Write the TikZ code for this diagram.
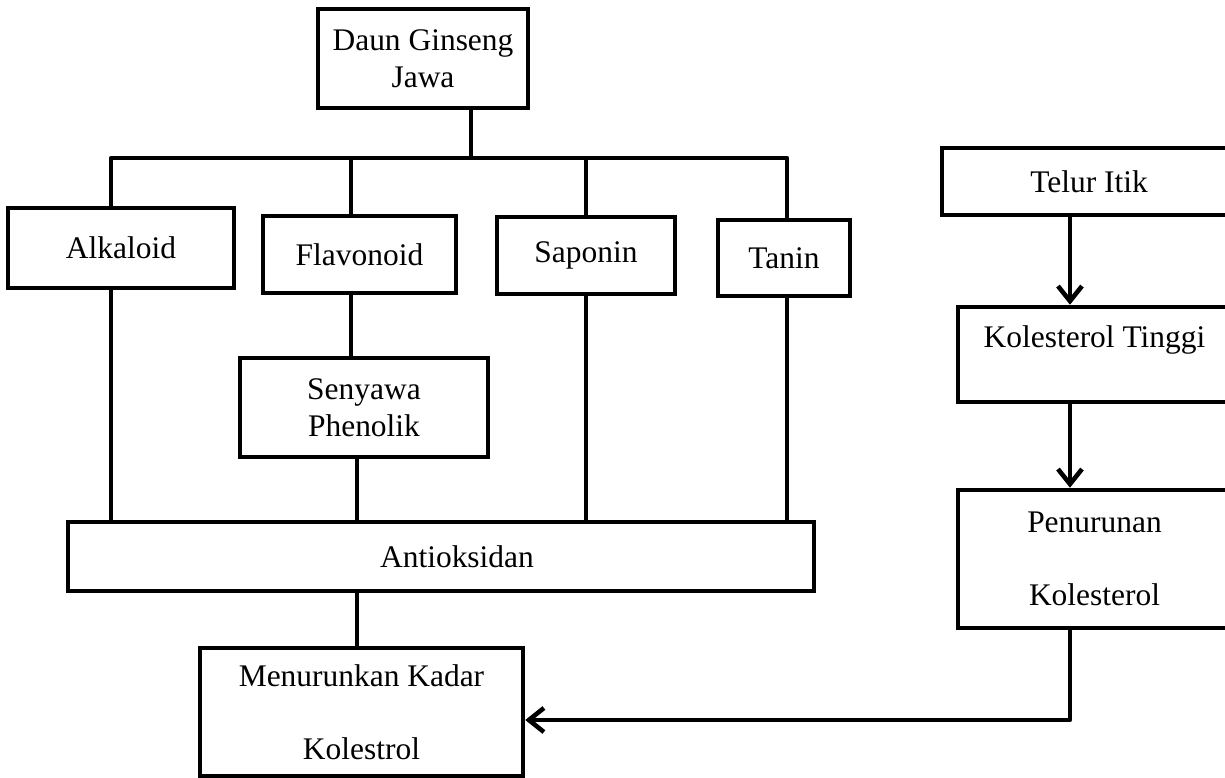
\documentclass[tikz,border=0pt]{standalone}
\usepackage{fontspec}
\setmainfont{Liberation Serif}
\usetikzlibrary{arrows.meta}

\tikzset{
  flow/.style={line width=2.6pt, line join=round},
  arr/.style={flow, -{Straight Barb[length=0.3cm,width=0.48cm]}}
}

\begin{document}
\begin{tikzpicture}[x=0.02cm, y=-0.02cm,
    every node/.append style={font=\fontsize{17.9pt}{21pt}\selectfont}]
    \useasboundingbox (0,0) rectangle (1225,778);
    \clip (0,0) rectangle (1225,778);

    \begin{scope}[every node/.style={rectangle, draw, line width=2.6pt, align=center,
        font=\fontsize{17.9pt}{21pt}\selectfont}]
      \node[minimum width=4.2cm, minimum height=1.98cm] (daun) at (423, 58.5) {Daun Ginseng\\Jawa};
      \node[minimum width=4.52cm, minimum height=1.6cm] (alk) at (121, 248) {Alkaloid};
      \node[minimum width=3.86cm, minimum height=1.54cm] (fla) at (359.5, 254.5) {Flavonoid};
      \node[minimum width=3.56cm, minimum height=1.54cm] (sap) at (586, 255.5) {Saponin};
      \node[minimum width=2.64cm, minimum height=1.52cm] (tan) at (784, 258) {Tanin};
      \node[minimum width=4.96cm, minimum height=1.98cm] (sen) at (364, 407.5) {Senyawa\\Phenolik};
      \node[minimum width=14.92cm, minimum height=1.38cm] (anti) at (441, 556.5) {\hspace*{0.64cm}Antioksidan};
      \node[minimum width=6.46cm, minimum height=2.56cm] (turun) at (361.5, 712) {Menurunkan Kadar\\[0.72cm]Kolestrol};
      \node[minimum width=5.88cm, minimum height=1.34cm] (telur) at (1089, 181.5) {Telur Itik};
      \node[minimum width=5.46cm, minimum height=1.9cm, text depth=0.7cm] (tinggi) at (1094.5, 354.5) {Kolesterol Tinggi};
      \node[minimum width=5.46cm, minimum height=2.76cm] (pen) at (1094.5, 559) {Penurunan\\[0.72cm]Kolesterol};
    \end{scope}

    % bus under Daun Ginseng Jawa
    \coordinate (trunk) at (471, 158);
    \coordinate (cA) at (111, 158);
    \coordinate (cF) at (351, 158);
    \coordinate (cS) at (586, 158);
    \coordinate (cT) at (787, 158);
    \coordinate (cM) at (357, 0);
    \coordinate (cR) at (1070, 0);
    \coordinate (cY) at (0, 720);

    \draw[flow] (trunk |- daun.south) -- (trunk);
    \draw[flow] (cA |- alk.north) -- (cA) -- (cT) -- (cT |- tan.north);
    \draw[flow] (cF) -- (cF |- fla.north);
    \draw[flow] (cS) -- (cS |- sap.north);

    \foreach \n/\c in {alk/cA, sap/cS, tan/cT}
      \draw[flow] (\c |- \n.south) -- (\c |- anti.north);
    \draw[flow] (cF |- fla.south) -- (cF |- sen.north);
    \draw[flow] (cM |- sen.south) -- (cM |- anti.north);
    \draw[flow] (cM |- anti.south) -- (cM |- turun.north);

    % right column
    \draw[arr] (cR |- telur.south) -- (cR |- tinggi.north);
    \draw[arr] (cR |- tinggi.south) -- (cR |- pen.north);
    \draw[arr] (cR |- pen.south) |- (turun.east |- cY);

  \end{tikzpicture}
\end{document}
